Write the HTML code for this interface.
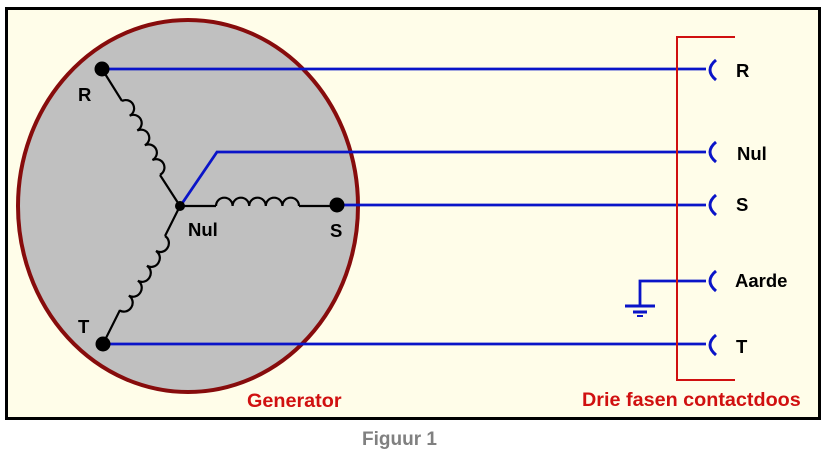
<!DOCTYPE html>
<html><head><meta charset="utf-8"><style>
html,body{margin:0;padding:0;background:#fff;}
svg{display:block;}
text{font-family:"Liberation Sans",Arial,sans-serif;font-weight:bold;}
</style></head><body>
<svg width="825" height="456" viewBox="0 0 825 456" xmlns="http://www.w3.org/2000/svg">
<defs>
<path id="coil" d="M0 0 a8.3 8.3 0 0 1 16.6 0 a8.3 8.3 0 0 1 16.6 0 a8.3 8.3 0 0 1 16.6 0 a8.3 8.3 0 0 1 16.6 0 a8.3 8.3 0 0 1 16.6 0" fill="none" stroke="#000" stroke-width="2.2"/>
</defs>
<rect x="6.5" y="8.5" width="813" height="410" fill="#fffde9" stroke="#000" stroke-width="3"/>
<ellipse cx="188" cy="206" rx="170" ry="186" fill="#c0c0c0" stroke="#870c0c" stroke-width="4"/>
<g stroke="#0a14c8" stroke-width="2.8" fill="none">
<line x1="102" y1="69" x2="706" y2="69"/>
<polyline points="181,205 217,152 706,152"/>
<line x1="337" y1="205" x2="706" y2="205"/>
<line x1="103" y1="344" x2="706" y2="344"/>
<polyline points="706,281 640,281 640,305"/>
<line x1="625" y1="306" x2="655" y2="306" stroke-width="3"/>
<line x1="633" y1="312" x2="647" y2="312" stroke-width="3"/>
<line x1="637" y1="316" x2="643" y2="316" stroke-width="2"/>
<path d="M716 60 q-12 10 0 20" stroke-width="3"/>
<path d="M716 142 q-12 10 0 20" stroke-width="3"/>
<path d="M716 195 q-12 10 0 20" stroke-width="3"/>
<path d="M716 271 q-12 10 0 20" stroke-width="3"/>
<path d="M716 335 q-12 10 0 20" stroke-width="3"/>
</g>
<g stroke="#000" stroke-width="2.2" fill="none">
<line x1="102" y1="69" x2="122" y2="101"/>
<line x1="160" y1="175" x2="180" y2="206"/>
<line x1="180" y1="206" x2="165" y2="236"/>
<line x1="120" y1="310" x2="103" y2="344"/>
<line x1="180" y1="206" x2="216" y2="206"/>
<line x1="299" y1="206" x2="337" y2="206"/>
</g>
<use href="#coil" transform="translate(216,206)"/>
<use href="#coil" transform="translate(122,101) rotate(62.8)"/>
<use href="#coil" transform="translate(165,236) rotate(121.3) scale(1.05,1)"/>
<circle cx="102" cy="69" r="7.5" fill="#000"/>
<circle cx="103" cy="344" r="7.5" fill="#000"/>
<circle cx="337" cy="205" r="7.5" fill="#000"/>
<circle cx="180" cy="206" r="5" fill="#000"/>
<g font-size="18.5" fill="#000">
<text x="78" y="101">R</text>
<text x="78" y="333">T</text>
<text x="188" y="236">Nul</text>
<text x="330" y="237">S</text>
<text x="736" y="77">R</text>
<text x="737" y="160">Nul</text>
<text x="736" y="211">S</text>
<text x="735" y="287">Aarde</text>
<text x="736" y="353">T</text>
</g>
<polyline points="735,37 677,37 677,380 735,380" fill="none" stroke="#d01010" stroke-width="2"/>
<g font-size="19.8" fill="#d01010">
<text x="247" y="407">Generator</text>
<text x="582" y="406">Drie fasen contactdoos</text>
</g>
<text x="362" y="445" font-size="19" fill="#808080">Figuur 1</text>
</svg>
</body></html>
